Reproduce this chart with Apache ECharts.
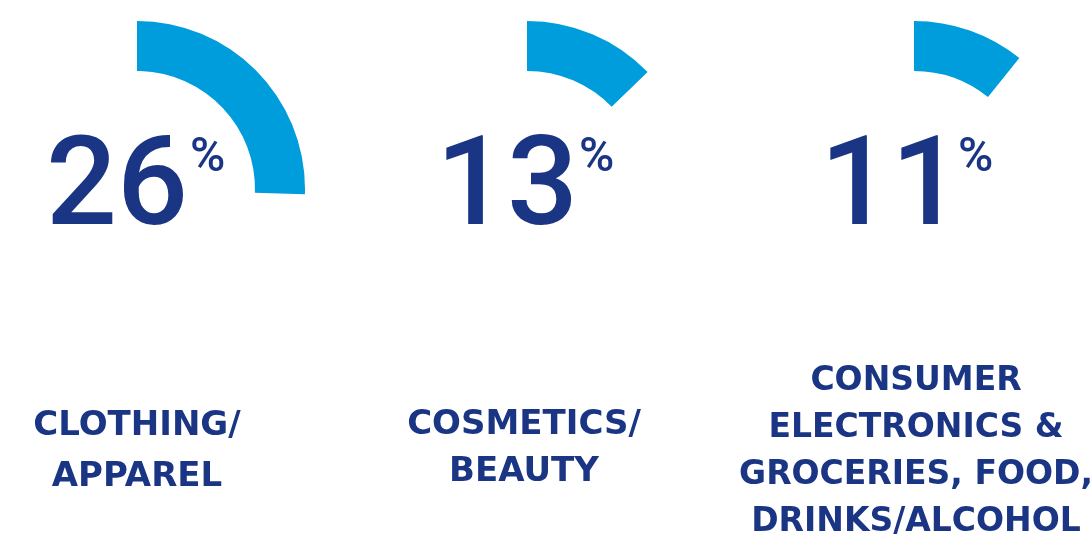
<!DOCTYPE html>
<html>
<head>
<meta charset="utf-8">
<script src="https://cdn.jsdelivr.net/npm/echarts@6/dist/echarts.min.js"></script>
<style>
  html, body { margin: 0; padding: 0; background: #ffffff; }
  #chart { width: 1092px; height: 540px; }
</style>
</head>
<body>
<div id="chart"></div>
<script>
// ---- data ----
var categories = ['CLOTHING/\nAPPAREL', 'COSMETICS/\nBEAUTY', 'CONSUMER\nELECTRONICS &\nGROCERIES, FOOD,\nDRINKS/ALCOHOL'];
var values = [26, 13, 11];
var scaleMax = 102; // full circle on the picture's scale

// ---- layout (pixels) ----
var centers = [[137, 189], [527, 189], [914, 189]];
var outerR = 168, ringWidth = 50;
var numCenterX = [117, 507, 891];
var numY = 193;
var numSize = 125;
var pctX = [190, 579, 958];
var pctY = 159;
var labelX = [137, 524, 916];
var labelY = [452, 449, 452];
var labelLH = [51, 47, 47];
var labelSize = [34, 34, 33];

var NAVY = '#1b3585', BLUE = '#009ddc';

var chart = echarts.init(document.getElementById('chart'), null, { renderer: 'canvas' });

var series = values.map(function (v, i) {
  return {
    type: 'gauge',
    center: centers[i],
    radius: outerR,
    startAngle: 90,
    endAngle: -270,
    min: 0,
    max: scaleMax,
    clockwise: true,
    animation: false,
    progress: { show: true, width: ringWidth, roundCap: false, itemStyle: { color: BLUE } },
    axisLine: { show: false },
    pointer: { show: false },
    anchor: { show: false },
    axisTick: { show: false },
    splitLine: { show: false },
    axisLabel: { show: false },
    title: { show: false },
    detail: { show: false },
    data: [{ value: v, name: categories[i] }]
  };
});

var graphics = [];
values.forEach(function (v, i) {
  graphics.push({
    type: 'text',
    x: numCenterX[i], y: numY,
    style: {
      text: String(v),
      font: '500 ' + numSize + 'px Roboto',
      fill: NAVY,
      align: 'center',
      verticalAlign: 'middle'
    }
  });
  graphics.push({
    type: 'text',
    x: pctX[i], y: pctY,
    style: {
      text: '%',
      font: '500 48px Roboto',
      fill: NAVY,
      align: 'left',
      verticalAlign: 'middle'
    }
  });
  graphics.push({
    type: 'text',
    x: labelX[i], y: labelY[i],
    style: {
      text: categories[i],
      font: 'bold ' + labelSize[i] + 'px "DejaVu Sans"',
      lineHeight: labelLH[i],
      fill: NAVY,
      align: 'center',
      verticalAlign: 'middle'
    }
  });
});

chart.setOption({
  backgroundColor: '#ffffff',
  animation: false,
  series: series,
  graphic: graphics
});
</script>
</body>
</html>
